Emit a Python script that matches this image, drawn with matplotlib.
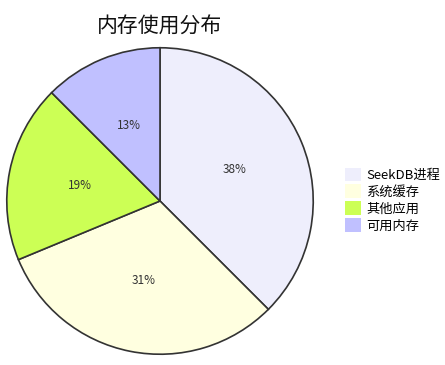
import math
import matplotlib
matplotlib.use("Agg")
import matplotlib.pyplot as plt
from matplotlib.patches import Patch

plt.rcParams['font.family'] = ['Noto Sans CJK SC', 'DejaVu Sans']

categories = ["SeekDB进程", "系统缓存", "其他应用", "可用内存"]
values = [6, 5, 3, 2]
colors = ["#EEEEFC", "#FFFFE0", "#CCFF55", "#C0C0FF"]
title = "内存使用分布"

fig = plt.figure(figsize=(4.45, 3.65), dpi=100)
ax = fig.add_axes([6/445, 10/365, 308/445, 308/365])
wedges, texts, autotexts = ax.pie(
    values, colors=colors, startangle=90, counterclock=False,
    autopct=lambda p: f"{math.floor(p + 0.5 + 1e-9)}%", pctdistance=0.53,
    wedgeprops=dict(edgecolor="#333333", linewidth=1.2),
    textprops=dict(fontsize=8.5, color="#333333"))
ax.set_xlim(-1.005, 1.005)
ax.set_ylim(-1.005, 1.005)
ax.set_aspect("equal")
fig.text(160/445, 1 - 27/365, title, ha="center", va="center", fontsize=15, color="#111111")

handles = [Patch(facecolor=c, edgecolor="none") for c in colors]
fig.legend(handles, categories, loc="center left", bbox_to_anchor=(333/445, 1 - 200/365),
           frameon=False, fontsize=9.5, handlelength=1.2, handleheight=1.2,
           handletextpad=0.4, labelspacing=0.2)
fig.savefig("out.png", dpi=100, facecolor="white")
